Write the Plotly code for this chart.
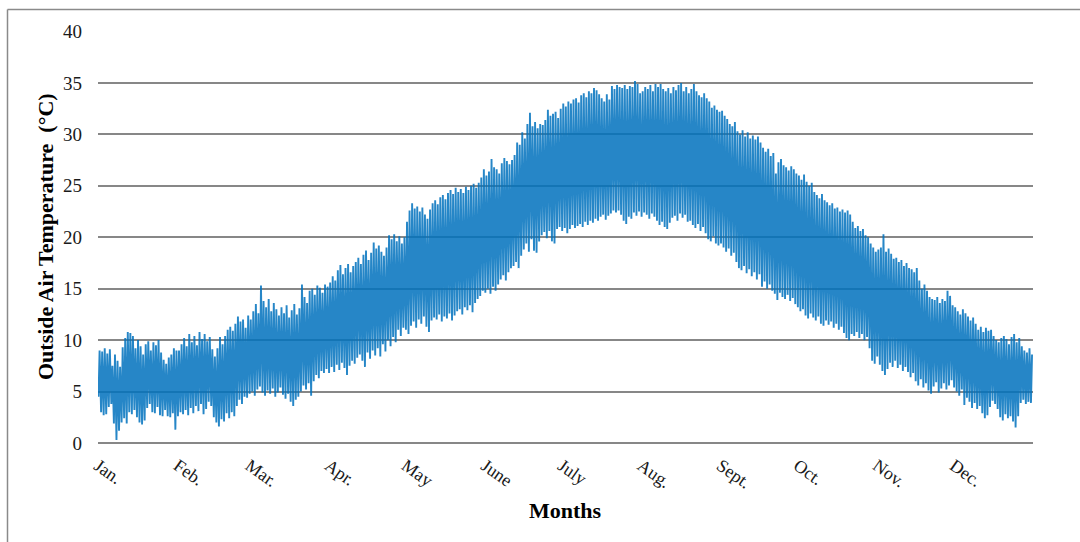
import plotly.graph_objects as go

# ---- data (daily low / high outside air temperature, °C) ----
month_names = ["Jan.", "Feb.", "Mar.", "Apr.", "May", "June",
               "July", "Aug.", "Sept.", "Oct.", "Nov.", "Dec."]
month_days = [31, 28, 31, 30, 31, 30, 31, 31, 30, 31, 30, 31]

low_jan = [4.5, 3.0, 2.7, 2.8, 3.5, 3.8, 1.9, 0.3, 1.2, 2.0, 2.4, 1.9, 3.0, 2.8, 3.2, 2.5,
           2.0, 1.8, 2.2, 3.4, 3.8, 3.0, 2.9, 3.5, 2.7, 2.6, 3.2, 2.6, 2.5, 2.9, 1.3]
high_jan = [9.0, 8.9, 9.2, 8.7, 9.1, 7.5, 8.6, 8.0, 7.4, 9.3, 10.2, 10.8, 10.7, 10.4, 9.2, 10.0,
            9.4, 8.6, 9.6, 9.9, 9.0, 9.8, 9.5, 10.0, 8.8, 8.1, 7.7, 8.3, 8.6, 9.2, 9.0]

low_feb = [2.6, 3.0, 2.8, 3.2, 2.7, 3.4, 2.9, 3.6, 3.1, 3.8, 2.8, 3.3, 4.0, 3.6,
           2.5, 2.0, 1.6, 2.3, 2.1, 2.9, 2.4, 3.0, 2.6, 3.6, 4.2, 3.8, 4.5, 4.4]
high_feb = [9.0, 9.6, 10.2, 9.4, 10.6, 9.8, 10.4, 9.5, 10.8, 10.1, 10.6, 9.9, 10.3, 9.1,
            8.4, 9.2, 10.3, 9.6, 10.4, 11.0, 11.3, 10.9, 11.6, 12.3, 11.8, 12.0, 11.2, 12.4]

low_mar = [4.8, 5.0, 4.6, 5.2, 5.5, 4.9, 4.6, 5.1, 4.8, 5.3, 4.5, 4.9, 5.4, 4.7, 4.3, 4.8,
           4.0, 3.6, 4.2, 4.5, 5.0, 5.6, 5.2, 5.8, 4.6, 6.0, 6.6, 6.3, 7.0, 6.8, 7.2]
high_mar = [12.0, 12.8, 13.5, 12.6, 15.3, 13.8, 13.2, 14.0, 12.8, 13.6, 13.0, 12.4, 13.2, 12.6,
            13.4, 12.2, 12.9, 13.5, 12.5, 13.1, 15.4, 14.2, 13.6, 14.8, 15.0, 14.4, 15.3, 15.1,
            14.6, 15.4, 15.2]

low_apr = [6.8, 7.4, 6.9, 7.6, 7.1, 7.8, 7.3, 6.6, 7.5, 8.0, 7.7, 8.3, 8.6, 8.0, 7.4,
           8.8, 8.2, 9.0, 8.5, 9.2, 8.4, 9.6, 8.9, 10.0, 9.4, 10.3, 9.8, 11.0, 10.4, 11.2]
high_apr = [15.6, 16.2, 15.8, 16.8, 17.3, 16.4, 17.0, 17.4, 16.6, 17.2, 17.6, 18.0, 17.4, 18.3,
            18.7, 17.8, 18.5, 19.5, 18.9, 19.2, 18.6, 18.2, 19.0, 20.2, 19.8, 20.3, 19.6, 20.1,
            19.4, 20.0]

low_may = [11.0, 10.6, 11.4, 11.8, 11.2, 12.0, 11.6, 12.3, 11.3, 10.8, 11.9, 12.2, 12.0, 12.5,
           11.8, 12.3, 12.1, 12.6, 11.9, 12.4, 12.8, 13.0, 12.5, 13.2, 12.9, 13.4, 12.7, 13.6,
           14.0, 14.3, 14.8]
high_may = [21.5, 22.6, 23.3, 22.8, 23.0, 22.5, 22.9, 22.2, 21.8, 22.7, 23.3, 23.6, 23.2, 23.9,
            24.1, 23.7, 24.3, 24.6, 24.2, 24.8, 24.4, 24.7, 24.3, 24.9, 24.6, 25.0, 25.2, 24.8,
            25.3, 25.8, 26.6]

low_jun = [14.6, 15.0, 14.5, 15.2, 14.8, 15.4, 15.9, 16.3, 15.8, 16.6, 17.0, 17.2, 17.6, 17.0,
           18.2, 18.8, 19.4, 18.6, 19.8, 18.7, 18.5, 19.6, 20.2, 20.5, 19.9, 20.6, 19.6, 19.4,
           20.8, 21.0]
high_jun = [26.0, 26.4, 27.6, 26.8, 26.6, 26.2, 27.2, 27.7, 27.4, 27.1, 27.5, 28.0, 29.2, 29.0,
            30.2, 29.6, 31.0, 32.1, 30.8, 31.2, 30.6, 31.0, 30.9, 31.4, 32.4, 31.8, 32.0, 32.2,
            31.6, 32.5]

low_jul = [20.6, 20.9, 20.4, 20.8, 21.2, 20.9, 21.1, 21.3, 21.0, 21.5, 21.2, 21.6, 21.4, 21.8,
           21.6, 22.0, 22.2, 21.7, 22.1, 22.3, 22.6, 22.4, 22.6, 22.2, 21.6, 21.3, 22.0, 21.8,
           22.4, 22.1, 22.5]
high_jul = [33.0, 32.7, 33.2, 33.0, 33.4, 33.5, 33.1, 33.8, 34.0, 33.6, 34.2, 34.0, 34.5, 34.3,
            33.9, 33.5, 33.2, 33.9, 33.4, 34.7, 34.4, 34.8, 34.6, 34.5, 34.8, 34.4, 34.7, 34.6,
            35.2, 34.9, 34.0]

low_aug = [22.0, 22.4, 22.2, 21.8, 22.3, 22.0, 21.6, 21.2, 21.5, 21.0, 20.8, 21.4, 21.9, 22.1,
           21.6, 22.3, 21.9, 22.2, 21.5, 21.6, 21.2, 20.9, 21.3, 20.6, 21.0, 20.4, 19.8, 19.6,
           20.1, 19.4, 19.2]
high_aug = [34.2, 34.6, 34.4, 34.8, 34.2, 34.9, 34.6, 34.9, 34.4, 34.2, 34.5, 34.0, 34.6, 34.3,
            34.8, 35.0, 34.2, 34.6, 34.0, 34.4, 34.9, 34.2, 33.8, 33.6, 34.0, 33.5, 33.2, 32.6,
            32.8, 32.4, 32.2]

low_sep = [19.4, 19.0, 18.6, 18.9, 18.2, 18.5, 17.6, 17.0, 16.8, 17.2, 16.5, 16.9, 16.2, 16.6,
           15.9, 16.4, 15.2, 15.7, 15.0, 15.4, 14.8, 14.5, 13.9, 14.6, 14.2, 14.0, 14.4, 13.8,
           14.1, 13.5]
high_sep = [32.3, 31.8, 31.5, 31.0, 30.8, 31.2, 30.3, 30.0, 30.4, 29.8, 30.2, 29.6, 29.9, 29.5,
            29.8, 29.2, 28.7, 28.3, 28.6, 27.9, 28.2, 26.2, 27.3, 27.6, 27.0, 26.8, 26.5, 26.9,
            26.6, 26.2]

low_oct = [13.2, 12.8, 13.0, 12.4, 12.1, 12.6, 12.2, 11.9, 12.3, 11.6, 11.4, 11.9, 11.5, 11.8,
           11.2, 11.6, 11.0, 11.3, 10.7, 10.2, 10.0, 10.6, 10.4, 10.8, 10.2, 10.6, 10.0, 10.3,
           9.2, 8.0, 7.7]
high_oct = [26.0, 25.6, 26.1, 25.4, 25.0, 25.3, 24.4, 24.1, 23.8, 24.2, 23.6, 23.4, 23.1, 23.3,
            22.8, 22.9, 22.5, 22.7, 22.4, 22.6, 22.2, 21.5, 20.9, 21.1, 20.6, 20.8, 20.2, 20.0,
            19.4, 19.0, 18.6]

low_nov = [8.4, 7.6, 7.0, 6.6, 7.2, 7.8, 7.4, 8.0, 7.3, 7.6, 7.0, 7.4, 6.9, 6.4, 6.8, 6.0,
           5.6, 6.2, 5.4, 5.8, 5.1, 4.8, 5.5, 5.9, 4.9, 5.3, 5.8, 5.2, 5.6, 6.1]
high_nov = [18.8, 19.0, 20.3, 18.6, 18.9, 18.4, 17.9, 18.0, 17.6, 17.8, 17.2, 17.5, 17.0, 16.9,
            16.6, 17.0, 15.8, 15.0, 15.4, 14.8, 14.2, 14.0, 13.9, 14.2, 13.6, 14.0, 13.8, 14.8,
            14.3, 13.4]

low_dec = [5.4, 5.0, 4.6, 5.2, 3.7, 4.4, 4.0, 3.4, 3.9, 3.3, 3.6, 2.9, 2.4, 2.7, 3.5, 4.1,
           3.8, 3.3, 2.5, 2.2, 2.8, 2.4, 2.6, 2.1, 1.5, 2.6, 3.9, 4.2, 3.8, 4.0, 3.9]
high_dec = [13.2, 12.8, 12.5, 13.0, 12.6, 12.3, 11.9, 12.2, 11.6, 11.0, 11.3, 10.8, 11.2, 10.9,
            11.0, 10.4, 10.0, 9.8, 10.2, 10.4, 10.1, 9.6, 10.3, 10.6, 9.8, 10.2, 9.4, 9.0, 8.8,
            9.2, 8.6]

y_ticks = [0, 5, 10, 15, 20, 25, 30, 35, 40]

# hour of day at which the daily low / high is reached
hour_low, hour_high = 5, 15

# ---- build the hourly-axis series (low then high for every day) ----
lows = (low_jan + low_feb + low_mar + low_apr + low_may + low_jun +
        low_jul + low_aug + low_sep + low_oct + low_nov + low_dec)
highs = (high_jan + high_feb + high_mar + high_apr + high_may + high_jun +
         high_jul + high_aug + high_sep + high_oct + high_nov + high_dec)

xs, ys = [], []
for d, (lo, hi) in enumerate(zip(lows, highs)):
    xs += [d * 24 + hour_low, d * 24 + hour_high]
    ys += [lo, hi]

month_start_hours = []
acc = 0
for n in month_days:
    month_start_hours.append(acc * 24)
    acc += n
year_hours = acc * 24

fig = go.Figure()
fig.add_trace(go.Scatter(
    x=xs, y=ys, mode="lines",
    line=dict(color="rgb(1,114,190)", width=1.9),
    opacity=0.85, hoverinfo="skip", showlegend=False,
))

grid_col = "#878787"
fig.update_layout(
    width=1080, height=542,
    margin=dict(l=98, r=47, t=31, b=99),
    paper_bgcolor="white", plot_bgcolor="white",
    font=dict(family="Liberation Serif, Times New Roman, serif", color="#1a1a1a"),
    xaxis=dict(
        range=[0, year_hours], tickmode="array",
        tickvals=month_start_hours, ticktext=month_names,
        tickangle=35, tickfont=dict(size=18),
        showgrid=False, zeroline=False, showline=False, ticks="",
        ticklabelstandoff=8,
    ),
    yaxis=dict(
        range=[0, 40.05], tickmode="array", tickvals=y_ticks,
        tickfont=dict(size=19),
        showgrid=True, gridcolor=grid_col, gridwidth=1.5,
        zeroline=True, zerolinecolor=grid_col, zerolinewidth=1.5,
        showline=False, ticks="", ticklabelstandoff=15,
    ),
    annotations=[
        dict(text="<b>Months</b>", x=0.5, y=(443 - 511) / 412, xref="paper", yref="paper",
             xanchor="center", yanchor="middle", showarrow=False,
             font=dict(size=22, color="black")),
        dict(text="<b>Outside Air Temperature  (°C)</b>", x=(45 - 98) / 935, y=0.5,
             xref="paper", yref="paper", xanchor="center", yanchor="middle",
             textangle=-90, showarrow=False, font=dict(size=22, color="black")),
    ],
    shapes=[
        dict(type="line", xref="paper", yref="paper",
             x0=(7.5 - 98) / 935, x1=(1080 - 98) / 935,
             y0=(443 - 9.5) / 412, y1=(443 - 9.5) / 412,
             line=dict(color="#8a8a8a", width=1.5)),
        dict(type="line", xref="paper", yref="paper",
             x0=(7.5 - 98) / 935, x1=(7.5 - 98) / 935,
             y0=(443 - 9.5) / 412, y1=(443 - 545) / 412,
             line=dict(color="#8a8a8a", width=1.5)),
    ],
)

fig.write_html("out.html")
